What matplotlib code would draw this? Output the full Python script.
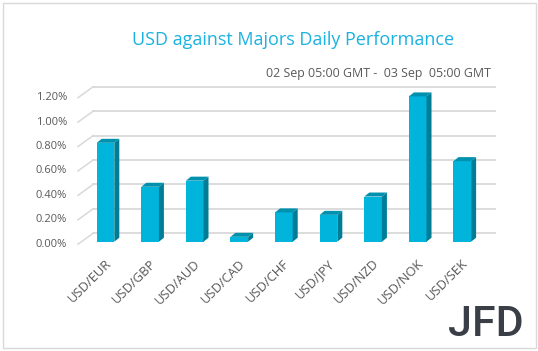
import matplotlib
matplotlib.use("Agg")
import matplotlib.pyplot as plt
from matplotlib.patches import Polygon, Rectangle
from matplotlib.lines import Line2D
from matplotlib.transforms import offset_copy

pairs = ["USD/EUR", "USD/GBP", "USD/AUD", "USD/CAD", "USD/CHF",
         "USD/JPY", "USD/NZD", "USD/NOK", "USD/SEK"]
perf = [0.81, 0.45, 0.50, 0.04, 0.24, 0.22, 0.37, 1.19, 0.66]
ticks = [0.0, 0.2, 0.4, 0.6, 0.8, 1.0, 1.2]
title = "USD against Majors Daily Performance"
subtitle = "02 Sep 05:00 GMT -  03 Sep  05:00 GMT"

W, H = 538, 351
fig = plt.figure(figsize=(W / 100, H / 100), dpi=100)
fig.patch.set_facecolor("white")

# bar plane: value 0 at y=241.7 px, 1.2 at y=95.2 px (from top)
ax = fig.add_axes([83.2 / W, (H - 241.7) / H, 401.4 / W, (241.7 - 95.2) / H])
ax.set_xlim(-0.5, len(pairs) - 0.5)
ax.set_ylim(0, 1.2)
ax.axis("off")

front_c = "#00b4dc"
side_c = "#007d96"
top_c = "#0091ae"
grid_c = "#d9d9d9"
txt_c = "#595959"

# back wall gridlines + diagonal on the left wall
fig.canvas.draw()
back = offset_copy(ax.transData, fig, x=10, y=8.5, units="dots")
for v in ticks:
    ax.add_line(Line2D([-0.5, len(pairs) - 0.5], [v, v], color=grid_c, lw=1.3,
                       transform=back, clip_on=False, zorder=0))
    px, py = ax.transData.transform((-0.5, v))
    fig.add_artist(Line2D([px - 5.2, px + 10], [py - 2.5, py + 8.5], color=grid_c,
                          lw=1.1, transform=None, zorder=0))
    fig.text(67 / W, (py - 2.5) / H, "{:.2f}%".format(v), ha="right", va="center",
             fontsize=8, color=txt_c, family="Open Sans")

# pseudo 3D bars
bw = 0.395
dx, dy = 5, 4
for i, v in enumerate(perf):
    x0, x1 = i - bw / 2, i + bw / 2
    p10 = ax.transData.transform((x1, 0))
    p01 = ax.transData.transform((x0, v))
    p11 = ax.transData.transform((x1, v))
    side = [p10, p11, (p11[0] + dx, p11[1] + dy), (p10[0] + dx, p10[1] + dy)]
    top = [p01, p11, (p11[0] + dx, p11[1] + dy), (p01[0] + dx, p01[1] + dy)]
    fig.add_artist(Polygon(side, closed=True, facecolor=side_c, edgecolor="none",
                           transform=None, zorder=3))
    fig.add_artist(Polygon(top, closed=True, facecolor=top_c, edgecolor="none",
                           transform=None, zorder=3))
    ax.add_patch(Rectangle((x0, 0), bw, v, facecolor=front_c, edgecolor="none",
                           zorder=4, clip_on=False))
    lx, ly = ax.transData.transform((i, 0))
    fig.text((lx - 1) / W, (ly - 15) / H, pairs[i], rotation=45, ha="right", va="top",
             rotation_mode="anchor", fontsize=9.4, color=txt_c, family="Open Sans")

fig.text(293 / W, (H - 40) / H, title, ha="center", va="center", fontsize=13,
         color="#1ab2e0", family="Open Sans")
fig.text(491 / W, (H - 74) / H, subtitle, ha="right", va="center", fontsize=8.9,
         color=txt_c, family="Open Sans")

# logo
fig.text(486 / W, (H - 324) / H, "JFD", ha="center", va="center", fontsize=31,
         color="#3a3f47", family="Roboto", weight="medium")

# outer frame
fig.add_artist(Rectangle((2.5 / W, 3 / H), 533 / W, 345 / H, fill=False,
                         edgecolor="#d9d9d9", lw=1, transform=fig.transFigure))

fig.savefig("out.png", dpi=100)
